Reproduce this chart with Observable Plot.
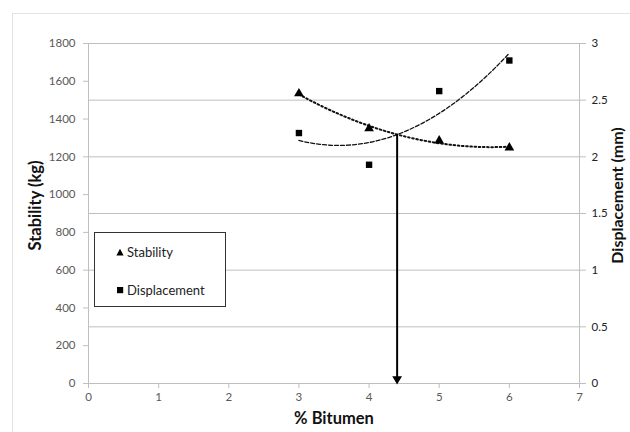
<!DOCTYPE html>
<html>
<head>
<meta charset="utf-8">
<script src="https://cdn.jsdelivr.net/npm/d3@7"></script>
<script src="https://cdn.jsdelivr.net/npm/@observablehq/plot@0.6"></script>
<style>
  html, body { margin: 0; padding: 0; background: #fff; }
  #wrap { position: relative; width: 630px; height: 432px; overflow: hidden; font-family: Lato, "Open Sans", sans-serif; }
  #border { position: absolute; left: 12px; top: 13px; width: 640px; height: 440px; border: 1px solid #e3e3e3; box-sizing: border-box; }
  #legend { position: absolute; left: 94px; top: 232px; width: 132px; height: 75px; border: 1px solid #333; box-sizing: border-box; background: #fff; font-size: 13px; color: #222; }
  .item { position: absolute; left: 21px; display: flex; align-items: center; gap: 3px; height: 16px; }
</style>
</head>
<body>
<div id="wrap">
  <div id="border"></div>
  <div id="chart"></div>
  <div id="legend"></div>
</div>
<script>
// ---- data ----
const bitumen = [3, 4, 5, 6];                 // % Bitumen
const stability = [1535, 1350, 1286, 1249];   // kg
const displacement = [2.21, 1.93, 2.58, 2.85]; // mm
const xTicks = [0, 1, 2, 3, 4, 5, 6, 7];
const stabilityTicks = [0, 200, 400, 600, 800, 1000, 1200, 1400, 1600, 1800];
const displacementTicks = [0, 0.5, 1, 1.5, 2, 2.5, 3];
const optimumBitumen = 4.4;
const seriesNames = ["Stability", "Displacement"];

// secondary axis mapping: 3 mm <-> 1800 kg
const k = 1800 / 3;

// 2nd-order polynomial trendline (least squares), as in the spreadsheet
function quadFit(xv, yv) {
  const S = [0, 0, 0, 0, 0], T = [0, 0, 0];
  xv.forEach((x, i) => {
    for (let p = 0; p <= 4; p++) S[p] += x ** p;
    for (let p = 0; p <= 2; p++) T[p] += yv[i] * x ** p;
  });
  const M = [[S[0], S[1], S[2]], [S[1], S[2], S[3]], [S[2], S[3], S[4]]];
  const det = m => m[0][0]*(m[1][1]*m[2][2]-m[1][2]*m[2][1]) - m[0][1]*(m[1][0]*m[2][2]-m[1][2]*m[2][0]) + m[0][2]*(m[1][0]*m[2][1]-m[1][1]*m[2][0]);
  const D = det(M);
  const coef = [0, 1, 2].map(c => det(M.map((row, r) => row.map((v, j) => j === c ? T[r] : v))) / D);
  return x => coef[0] + coef[1] * x + coef[2] * x * x;
}
const fitS = quadFit(bitumen, stability);
const fitD = quadFit(bitumen, displacement);
const xs = d3.range(3, 6.0001, 0.05);

const stabData = bitumen.map((x, i) => ({x, y: stability[i]}));
const dispData = bitumen.map((x, i) => ({x, y: displacement[i]}));
const stabTrend = xs.map(x => ({x, y: fitS(x)}));
const dispTrend = xs.map(x => ({x, y: fitD(x)}));

const gray = "#bfbfbf";
const labelColor = "#595959";

const chart = Plot.plot({
  width: 630,
  height: 432,
  marginLeft: 88,
  marginRight: 51,
  marginTop: 43,
  marginBottom: 49,
  x: {domain: [0, 7]},
  y: {domain: [0, 1800]},
  style: {fontFamily: "Lato, 'Open Sans', sans-serif", fontSize: "11.5px", background: "transparent", color: labelColor},
  marks: [
    Plot.gridY(displacementTicks.map(d => d * k), {stroke: gray, strokeOpacity: 1}),
    Plot.ruleX([0, 7], {stroke: gray}),
    Plot.ruleY([0], {stroke: gray}),
    Plot.axisX({ticks: xTicks, tickFormat: d3.format("d"), tickSize: 5, tickPadding: 4, stroke: gray, fill: labelColor, label: null}),
    Plot.axisY({ticks: stabilityTicks, tickFormat: d3.format("d"), tickSize: 5, tickPadding: 8, stroke: gray, fill: labelColor, label: null}),
    Plot.axisY({anchor: "right", ticks: displacementTicks.map(d => d * k), tickFormat: d => String(+(d / k).toFixed(2)), tickSize: 6, tickPadding: 6, stroke: gray, fill: "#222", label: null}),
    Plot.text(["Stability (kg)"], {frameAnchor: "left", dx: -53, dy: -8, rotate: -90, textAnchor: "middle", fontWeight: "bold", fontSize: 16.5, fill: "#111"}),
    Plot.text(["Displacement (mm)"], {frameAnchor: "right", dx: 38, dy: -18, rotate: -90, textAnchor: "middle", fontWeight: "bold", fontSize: 16, fill: "#111"}),
    Plot.text(["% Bitumen"], {frameAnchor: "bottom", dy: 40, textAnchor: "middle", fontWeight: "bold", fontSize: 16.5, fill: "#111"}),
    Plot.line(stabTrend, {x: "x", y: "y", stroke: "#111", strokeWidth: 2, strokeDasharray: "1.6,2.6"}),
    Plot.line(dispTrend, {x: "x", y: d => d.y * k, stroke: "#111", strokeWidth: 1.3, strokeDasharray: "4,2"}),
    Plot.ruleX([optimumBitumen], {x: d => d, y1: d => fitS(d), y2: 0, stroke: "#000", strokeWidth: 2, insetBottom: 6}),
    Plot.dot([optimumBitumen], {x: d => d, y: 0, symbol: "triangle", r: 3.6, rotate: 180, dy: -4.5, fill: "#000", stroke: "none"}),
    Plot.dot(stabData, {x: "x", y: "y", symbol: "triangle", r: 3.6, fill: "#000", stroke: "none"}),
    Plot.dot(dispData, {x: "x", y: d => d.y * k, symbol: "square", r: 3.6, fill: "#000", stroke: "none"})
  ]
});
document.getElementById("chart").appendChild(chart);

// legend
const legend = document.getElementById("legend");
const shapes = [
  '<svg width="8" height="8"><path d="M4,0.8L7.6,7.5L0.4,7.5Z" fill="#000"/></svg>',
  '<svg width="8" height="8"><rect x="1" y="1" width="6.2" height="6.2" fill="#000"/></svg>'
];
seriesNames.forEach((name, i) => {
  const div = document.createElement("div");
  div.className = "item";
  div.style.top = (i === 0 ? 11 : 49) + "px";
  div.innerHTML = shapes[i] + "<span>" + name + "</span>";
  legend.appendChild(div);
});
</script>
</body>
</html>
